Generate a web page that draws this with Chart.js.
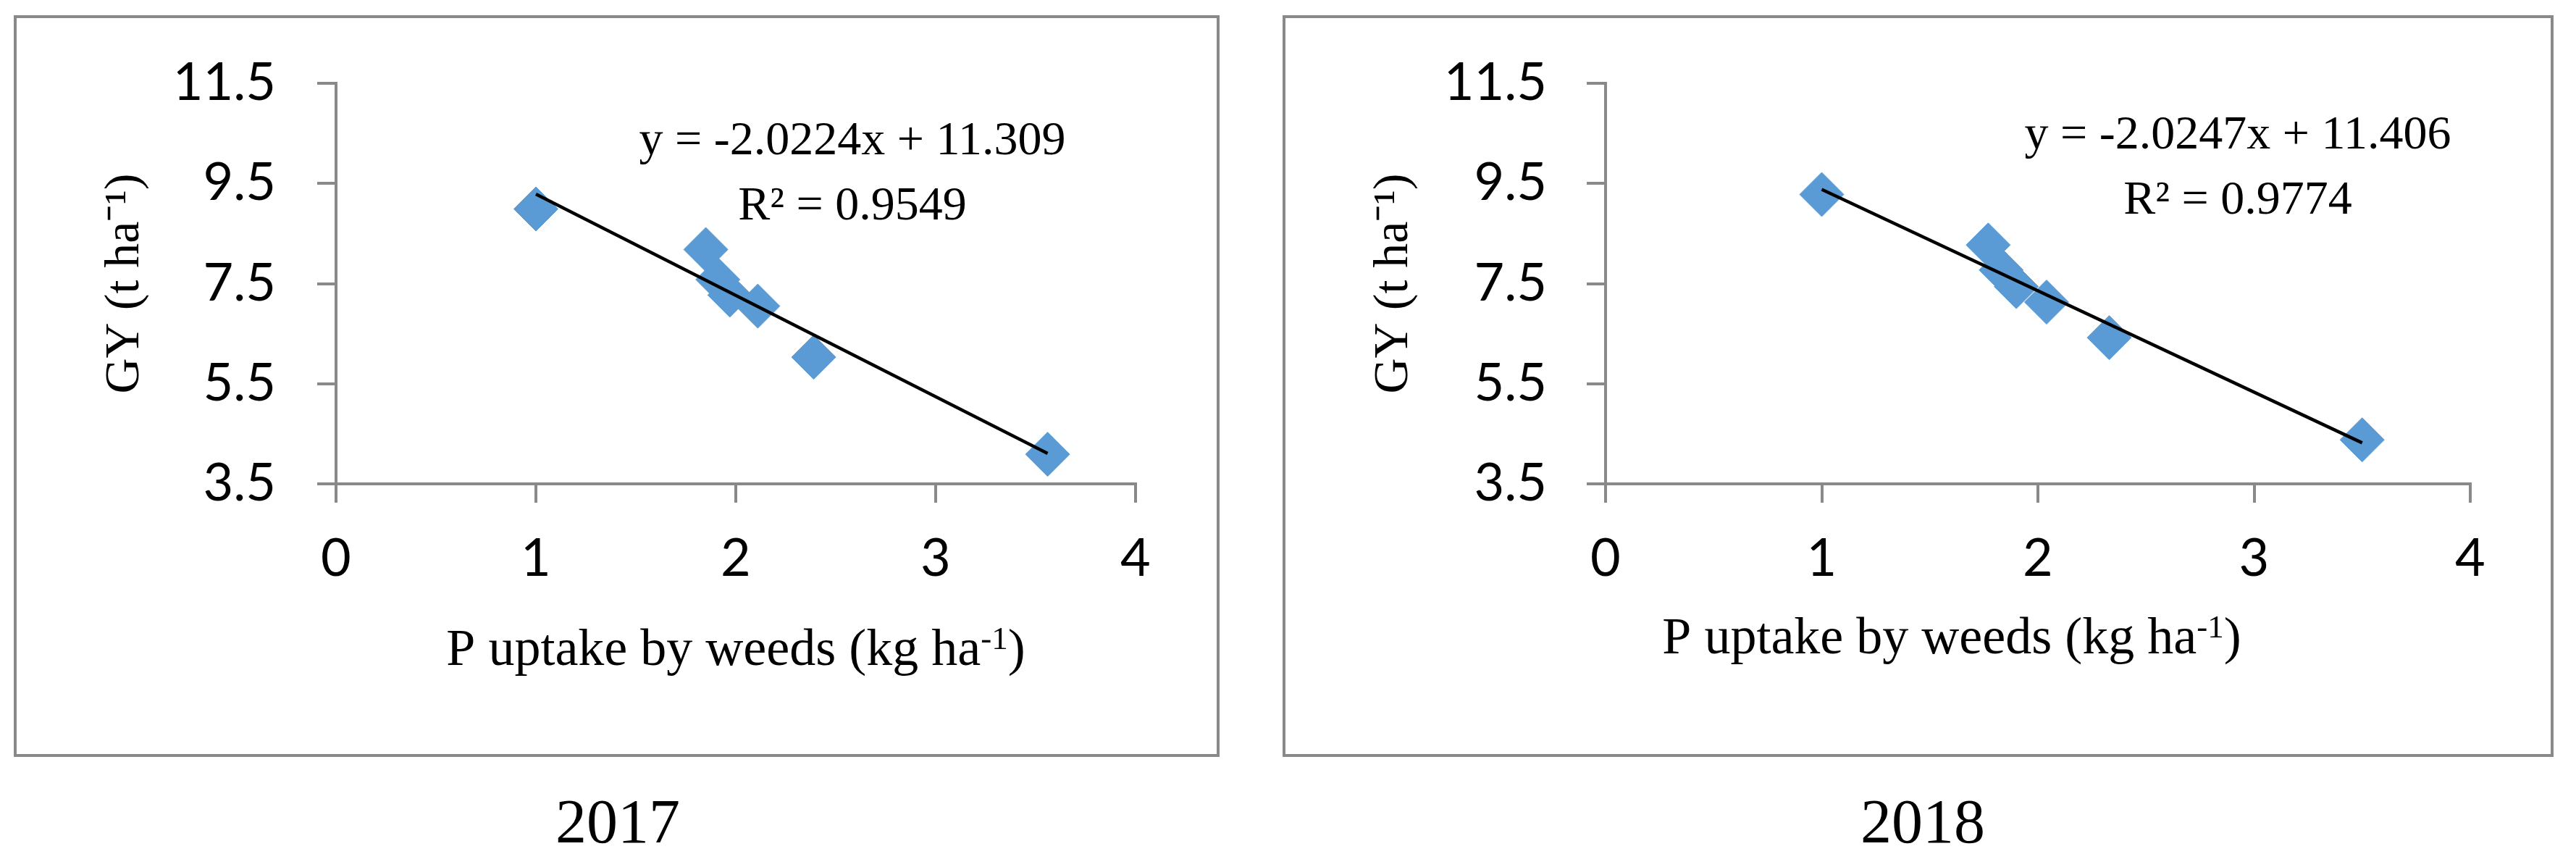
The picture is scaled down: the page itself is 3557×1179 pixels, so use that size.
<!DOCTYPE html>
<html>
<head>
<meta charset="utf-8">
<script src="https://cdn.jsdelivr.net/npm/chart.js@4"></script>
<style>
html,body{margin:0;padding:0;background:#fff;}
body{width:3557px;height:1179px;position:relative;overflow:hidden;}
.frame{position:absolute;box-sizing:border-box;border:4px solid #898989;}
canvas{position:absolute;top:0;}
</style>
</head>
<body>
<div class="frame" style="left:19px;top:21px;width:1665px;height:1024px"></div>
<div class="frame" style="left:1771px;top:21px;width:1755px;height:1024px"></div>
<canvas id="c2017" width="1740" height="1179" style="left:0px"></canvas>
<canvas id="c2018" width="1817" height="1179" style="left:1740px"></canvas>
<script>
// ---- data ----
const years = ['2017', '2018'];
const pUptake2017 = [1.00, 1.85, 1.91, 1.97, 2.11, 2.39, 3.56];
const grainYield2017 = [8.99, 8.18, 7.58, 7.27, 7.05, 6.03, 4.09];
const pUptake2018 = [1.00, 1.77, 1.83, 1.90, 2.04, 2.33, 3.50];
const grainYield2018 = [9.28, 8.27, 7.77, 7.44, 7.13, 6.42, 4.38];
const trendSlopes = [-2.0224, -2.0247];
const trendIntercepts = [11.309, 11.406];
const equationLabels = ['y = -2.0224x + 11.309', 'y = -2.0247x + 11.406'];
const r2Labels = ['R\u00B2 = 0.9549', 'R\u00B2 = 0.9774'];
const xTickValues = [0, 1, 2, 3, 4];
const xTickLabels = ['0', '1', '2', '3', '4'];
const yTickValues = [3.5, 5.5, 7.5, 9.5, 11.5];
const yTickLabels = ['3.5', '5.5', '7.5', '9.5', '11.5'];
const xTitleMain = 'P uptake by weeds (kg ha';
const xTitleSup = '-1';
const xTitleTail = ')';
const yTitleText = 'GY (t ha\u207B\u00B9)';

// ---- layout (page pixel positions) ----
const layouts = [
  {canvas: 'c2017', offsetX: 0, width: 1740, areaLeft: 464, areaRight: 1568,
   yTitleX: 173, yTickPad: 57, eqX: 1177, eqY1: 213, eqY2: 303,
   xTitleX: 1016, xTitleY: 918, yearX: 853, yearY: 1163},
  {canvas: 'c2018', offsetX: 1740, width: 1817, areaLeft: 2217, areaRight: 3411,
   yTitleX: 1925, yTickPad: 55, eqX: 3090, eqY1: 205, eqY2: 295,
   xTitleX: 2695, xTitleY: 902, yearX: 2655, yearY: 1163}
];
const AREA_TOP = 115, AREA_BOTTOM = 668, CANVAS_H = 1179, XSCALE_H = 300;
const AXIS_COLOR = '#898989';
const MARKER_COLOR = '#5B9BD5';
const SERIF = '"Liberation Serif", "Times New Roman", serif';
const Y_TITLE_SIZE = 68;

const textPlugin = {
  id: 'panelText',
  afterDraw(chart, args, o) {
    const ctx = chart.ctx;
    ctx.save();
    ctx.translate(-o.offsetX, 0);
    ctx.fillStyle = '#000';
    ctx.textBaseline = 'alphabetic';
    ctx.textAlign = 'center';
    ctx.font = '66px ' + SERIF;
    ctx.fillText(o.eq, o.eqX, o.eqY1);
    ctx.fillText(o.r2, o.eqX, o.eqY2);
    // x-axis title with superscript
    ctx.font = '72px ' + SERIF;
    const w1 = ctx.measureText(o.xMain).width;
    const w3 = ctx.measureText(o.xTail).width;
    ctx.font = '45px ' + SERIF;
    const w2 = ctx.measureText(o.xSup).width;
    const x0 = o.xTitleX - (w1 + w2 + w3) / 2;
    ctx.textAlign = 'left';
    ctx.font = '72px ' + SERIF;
    ctx.fillText(o.xMain, x0, o.xTitleY);
    ctx.font = '45px ' + SERIF;
    ctx.fillText(o.xSup, x0 + w1, o.xTitleY - 22);
    ctx.font = '72px ' + SERIF;
    ctx.fillText(o.xTail, x0 + w1 + w2, o.xTitleY);
    // year caption
    ctx.textAlign = 'center';
    ctx.font = '86px ' + SERIF;
    ctx.fillText(o.year, o.yearX, o.yearY);
    ctx.restore();
  }
};

function makeChart(i, xs, ys) {
  const L = layouts[i];
  const pts = xs.map((x, k) => ({x: x, y: ys[k]}));
  const xmin = Math.min(...xs), xmax = Math.max(...xs);
  const trend = [
    {x: xmin, y: trendIntercepts[i] + trendSlopes[i] * xmin},
    {x: xmax, y: trendIntercepts[i] + trendSlopes[i] * xmax}
  ];
  const yScaleWidth = L.areaLeft - L.offsetX;
  const titleLineHalf = Y_TITLE_SIZE * 1.2 / 2;
  return new Chart(document.getElementById(L.canvas), {
    type: 'scatter',
    data: {
      datasets: [
        {label: 'Linear (' + years[i] + ')', data: trend, showLine: true,
         borderColor: '#000', borderWidth: 4.5, pointRadius: 0, order: 1},
        {label: years[i], data: pts, pointStyle: 'rectRot', pointRadius: 30.5,
         backgroundColor: MARKER_COLOR, borderColor: MARKER_COLOR, borderWidth: 1, order: 2}
      ]
    },
    options: {
      responsive: false,
      animation: false,
      devicePixelRatio: 1,
      layout: {padding: {left: 0, top: AREA_TOP,
               right: L.offsetX + L.width - L.areaRight,
               bottom: CANVAS_H - AREA_BOTTOM - XSCALE_H}},
      plugins: {
        legend: {display: false},
        tooltip: {enabled: false},
        panelText: {offsetX: L.offsetX, eq: equationLabels[i], r2: r2Labels[i],
          eqX: L.eqX, eqY1: L.eqY1, eqY2: L.eqY2,
          xMain: xTitleMain, xSup: xTitleSup, xTail: xTitleTail,
          xTitleX: L.xTitleX, xTitleY: L.xTitleY,
          year: years[i], yearX: L.yearX, yearY: L.yearY}
      },
      scales: {
        x: {
          type: 'linear', min: 0, max: 4,
          afterBuildTicks: s => { s.ticks = xTickValues.map(v => ({value: v})); },
          afterFit: s => { s.height = XSCALE_H; },
          ticks: {callback: (v, idx) => xTickLabels[idx], color: '#000',
                  font: {family: 'Lato', size: 72}, padding: 35, maxRotation: 0, autoSkip: false},
          grid: {display: true, drawOnChartArea: false, drawTicks: true, tickLength: 26,
                 color: AXIS_COLOR, lineWidth: 4},
          border: {display: true, color: AXIS_COLOR, width: 4},
          title: {display: false}
        },
        y: {
          type: 'linear', min: 3.5, max: 11.5,
          afterBuildTicks: s => { s.ticks = yTickValues.map(v => ({value: v})); },
          afterFit: s => { s.width = yScaleWidth; },
          ticks: {callback: (v, idx) => yTickLabels[idx], color: '#000',
                  font: {family: 'Lato', size: 72}, padding: L.yTickPad, autoSkip: false},
          grid: {display: true, drawOnChartArea: false, drawTicks: true, tickLength: 26,
                 color: AXIS_COLOR, lineWidth: 4},
          border: {display: true, color: AXIS_COLOR, width: 4},
          title: {display: true, text: yTitleText, color: '#000',
                  font: {family: SERIF, size: Y_TITLE_SIZE, lineHeight: 1.2},
                  padding: {top: L.yTitleX - L.offsetX - titleLineHalf, bottom: 0}}
        }
      }
    },
    plugins: [textPlugin]
  });
}

makeChart(0, pUptake2017, grainYield2017);
makeChart(1, pUptake2018, grainYield2018);
</script>
</body>
</html>
